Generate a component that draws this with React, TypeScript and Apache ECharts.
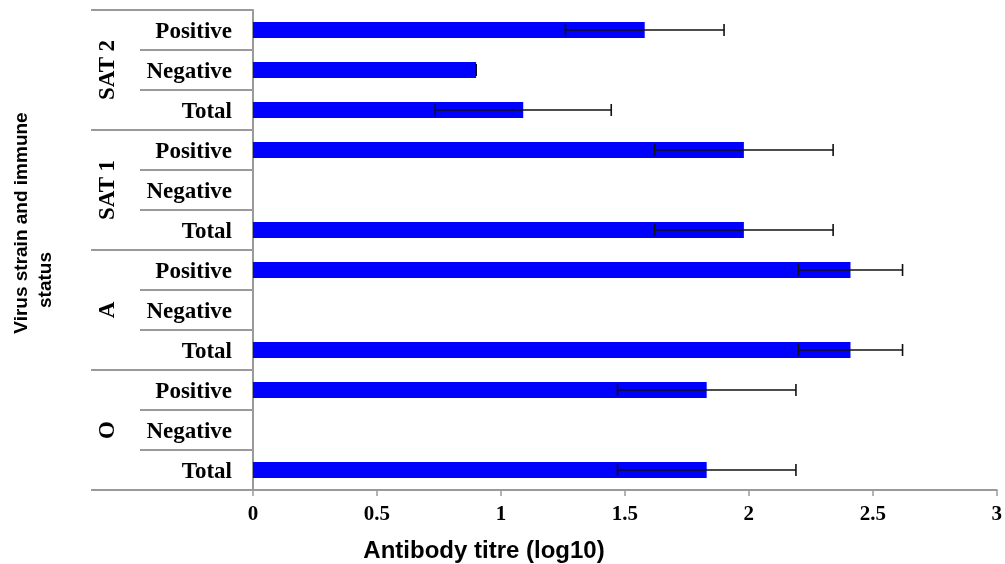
import React, { useEffect, useRef } from "react";
import * as echarts from "echarts";

// Bottom-to-top order
const groups = ["O", "A", "SAT 1", "SAT 2"];
const statuses = ["Total", "Negative", "Positive"];
const meanTitre = [1.83, 0, 1.83, 2.41, 0, 2.41, 1.98, 0, 1.98, 1.09, 0.9, 1.58];
const sdTitre: (number | null)[] = [0.36, null, 0.36, 0.21, null, 0.21, 0.36, null, 0.36, 0.355, 0, 0.32];
const xTicks = [0, 0.5, 1, 1.5, 2, 2.5, 3];

const SERIF = "'Liberation Serif', 'Times New Roman', serif";
const SANS = "'Liberation Sans', Arial, sans-serif";
const GRAY = "#9a9a9a";

export default function App() {
  const ref = useRef<HTMLDivElement>(null);
  useEffect(() => {
    if (!ref.current) return;
    const chart = echarts.init(ref.current, undefined, { renderer: "svg" });
    const cats: string[] = [];
    groups.forEach((g) => statuses.forEach((s) => cats.push(g + "|" + s)));
    const errData = cats
      .map((c, i) => (sdTitre[i] === null ? null : [c, meanTitre[i] - (sdTitre[i] as number), meanTitre[i] + (sdTitre[i] as number)]))
      .filter((d) => d !== null);

    chart.setOption({
      animation: false,
      grid: { left: 253, right: 7, top: 10, bottom: 74 },
      xAxis: {
        type: "value",
        min: xTicks[0],
        max: xTicks[xTicks.length - 1],
        interval: 0.5,
        axisLine: { show: true, lineStyle: { color: GRAY, width: 2 } },
        axisTick: { show: true, length: 6, lineStyle: { color: GRAY, width: 1.5 } },
        splitLine: { show: false },
        axisLabel: { color: "#000", fontFamily: SERIF, fontWeight: "bold", fontSize: 21, margin: 12 },
      },
      yAxis: {
        type: "category",
        data: cats,
        axisLine: { show: true, lineStyle: { color: GRAY, width: 2 } },
        axisTick: { show: false },
        splitLine: { show: false },
        axisLabel: {
          color: "#000",
          fontFamily: SERIF,
          fontWeight: "bold",
          fontSize: 23,
          margin: 21,
          formatter: (v: string) => v.split("|")[1],
        },
      },
      series: [
        {
          type: "bar",
          data: meanTitre,
          barWidth: 16,
          itemStyle: { color: "#0000ff" },
        },
        {
          type: "custom",
          data: errData,
          encode: { y: 0, x: [1, 2] },
          renderItem: (params: any, api: any) => {
            const cat = api.value(0);
            const lo = api.coord([api.value(1), cat]);
            const hi = api.coord([api.value(2), cat]);
            const h = 6;
            const st = { stroke: "#111", lineWidth: 1.6 };
            return {
              type: "group",
              children: [
                { type: "line", shape: { x1: lo[0], y1: lo[1], x2: hi[0], y2: hi[1] }, style: st },
                { type: "line", shape: { x1: lo[0], y1: lo[1] - h, x2: lo[0], y2: lo[1] + h }, style: st },
                { type: "line", shape: { x1: hi[0], y1: hi[1] - h, x2: hi[0], y2: hi[1] + h }, style: st },
              ],
            };
          },
          z: 5,
        },
      ],
    });

    // Decorative table lines and group labels, positioned from the axis scale
    const yc = (i: number) => (chart.convertToPixel({ yAxisIndex: 0 }, cats[i]) as number);
    const x0 = chart.convertToPixel({ xAxisIndex: 0 }, 0) as number;
    const half = (yc(0) - yc(1)) / 2;
    const n = cats.length;
    const graphics: any[] = [];
    const ls = { stroke: GRAY, lineWidth: 2 };
    const hline = (y: number, xa: number) =>
      graphics.push({ type: "line", shape: { x1: xa, y1: y, x2: x0, y2: y }, style: ls, z: 10 });
    hline(yc(n - 1) - half, 91);
    hline(yc(0) + half, 91);
    for (let i = 0; i < n - 1; i++) {
      const y = (yc(i) + yc(i + 1)) / 2;
      hline(y, (i + 1) % 3 === 0 ? 91 : 140);
    }
    groups.forEach((g, gi) => {
      graphics.push({
        type: "text",
        x: 106,
        y: yc(gi * 3 + 1),
        rotation: Math.PI / 2,
        style: {
          text: g,
          fontFamily: SERIF,
          fontWeight: "bold",
          fontSize: 23,
          fill: "#000",
          align: "center",
          verticalAlign: "middle",
        },
      });
    });
    graphics.push({
      type: "text",
      x: 20,
      y: 223,
      rotation: Math.PI / 2,
      style: { text: "Virus strain and immune", fontFamily: SANS, fontWeight: "bold", fontSize: 19, fill: "#000", align: "center", verticalAlign: "middle" },
    });
    graphics.push({
      type: "text",
      x: 44,
      y: 280,
      rotation: Math.PI / 2,
      style: { text: "status", fontFamily: SANS, fontWeight: "bold", fontSize: 19, fill: "#000", align: "center", verticalAlign: "middle" },
    });
    graphics.push({
      type: "text",
      x: 484,
      y: 549,
      style: { text: "Antibody titre (log10)", fontFamily: SANS, fontWeight: "bold", fontSize: 24, fill: "#000", align: "center", verticalAlign: "middle" },
    });
    chart.setOption({ graphic: graphics });

    return () => chart.dispose();
  }, []);
  return <div ref={ref} style={{ position: "fixed", left: 0, top: 0, width: 1005, height: 564 }} />;
}
